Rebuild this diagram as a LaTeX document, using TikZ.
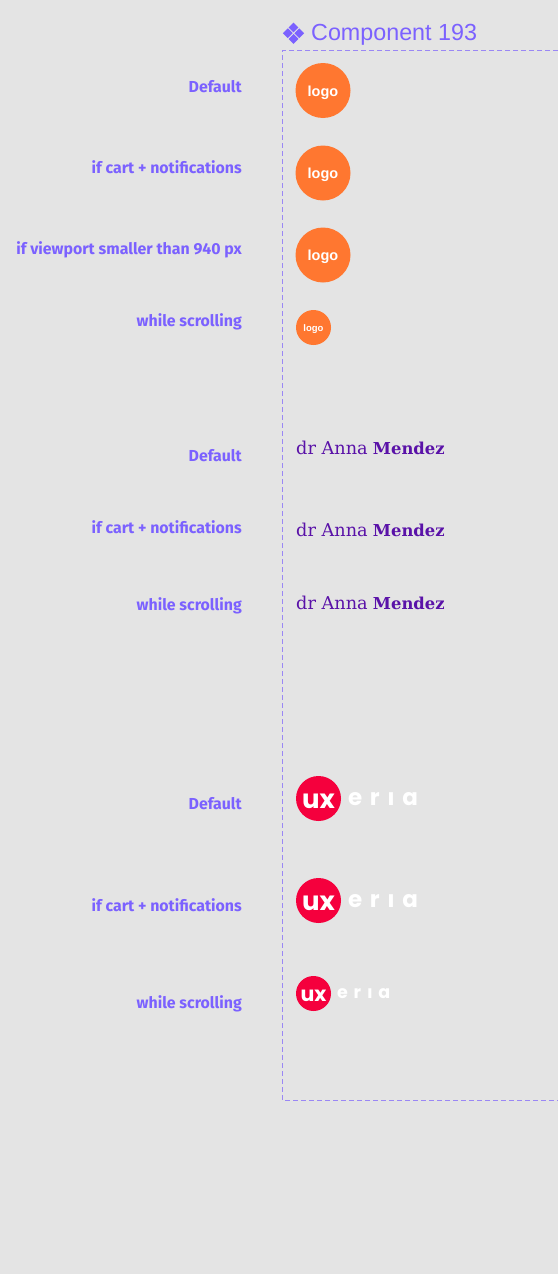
\documentclass[tikz,border=0pt]{standalone}
\usepackage{fontspec}
\usetikzlibrary{positioning}
\setmainfont{Liberation Sans}
\newfontfamily\labelfont{Fira Sans}
\newfontfamily\titlefont{Liberation Sans}
\newfontfamily\slabfont{DejaVu Serif}
\newfontfamily\brandfont[LetterSpace=33]{Poppins}
\newfontfamily\uxfont{Poppins}
\definecolor{violetlabel}{HTML}{7B61FF}
\definecolor{framedash}{HTML}{9A87F5}
\definecolor{pagegrey}{HTML}{E4E4E4}
\definecolor{logoorange}{HTML}{FF7730}
\definecolor{namepurple}{HTML}{5A12A8}
\definecolor{uxred}{HTML}{F5003D}
\tikzset{
	rowlabel/.style={anchor=east, inner sep=0pt, text height=12pt, text depth=4pt, text=violetlabel, font=\labelfont\bfseries\fontsize{15.9}{18}\selectfont},
	logobig/.style={circle, fill=logoorange, minimum size=55pt, inner sep=0pt, text=white, font=\bfseries\fontsize{14.5}{16}\selectfont},
	logosmall/.style={circle, fill=logoorange, minimum size=35pt, inner sep=0pt, text=white, font=\bfseries\fontsize{9.5}{10}\selectfont},
	doctorname/.style={anchor=west, inner sep=0pt, text=namepurple, font=\slabfont},
	uxbig/.style={circle, fill=uxred, minimum size=45pt, inner sep=0pt, text=white, font=\uxfont\bfseries\fontsize{26}{28}\selectfont},
	uxsmall/.style={circle, fill=uxred, minimum size=35pt, inner sep=0pt, text=white, font=\uxfont\bfseries\fontsize{20.5}{22}\selectfont},
	eriabig/.style={anchor=west, inner sep=0pt, yshift=-1pt, text=white, font=\brandfont\bfseries\fontsize{23}{24}\selectfont},
	eriasmall/.style={anchor=west, inner sep=0pt, yshift=-1pt, text=white, font=\brandfont\bfseries\fontsize{17.5}{20}\selectfont},
	gemtile/.style={fill=violetlabel}
}
\newcommand{\drname}{{\fontsize{17.7}{20}\selectfont dr Anna}\hspace{2pt} {\fontsize{16.4}{20}\selectfont\bfseries Mendez}}
\newcommand{\midword}[1]{\raisebox{-0.72ex}[0pt][0pt]{#1}}
\begin{document}
\begin{tikzpicture}[x=1pt, y=-1pt]
	% Page
	\fill[pagegrey] (0,0) rectangle (558,1274);
	\useasboundingbox (0,0) rectangle (558,1274);
	% Frame
	\coordinate (ftr) at (558,50.5);
	\coordinate (ftl) at (282.5,50.5);
	\coordinate (fbl) at (282.5,1100.5);
	\coordinate (fbr) at (558,1100.5);
	\draw[framedash, line width=1pt, dash pattern=on 5pt off 3pt] (ftr) -- (ftl) -- (fbl) -- (fbr);
	% Title
	\foreach \gx/\gy in {293.5/27.5, 293.5/38.9, 287.8/33.2, 299.2/33.2}
		\fill[gemtile] (\gx-4.9,\gy) -- (\gx,\gy-4.9) -- (\gx+4.9,\gy) -- (\gx,\gy+4.9) -- cycle;
	\node (title) [anchor=west, inner sep=0pt, text=violetlabel, font=\titlefont\fontsize{23.3}{26}\selectfont] at (311,34.5) {Component 193};
	% Labels
	\node (la) [rowlabel] at (242,88) {Default};
	\node (lb) [rowlabel] at (242,169) {if cart + notifications};
	\node (lc) [rowlabel] at (242,250) {if viewport smaller than 940 px};
	\node (ld) [rowlabel] at (242,322) {while scrolling};
	\node (na) [rowlabel] at (242,457) {Default};
	\node (nb) [rowlabel] at (242,529) {if cart + notifications};
	\node (nc) [rowlabel] at (242,606) {while scrolling};
	\node (ua) [rowlabel] at (242,805) {Default};
	\node (ub) [rowlabel] at (242,907) {if cart + notifications};
	\node (uc) [rowlabel] at (242,1004) {while scrolling};
	% Logos
	\node (loga) [logobig] at (323,90.5) {\midword{logo}};
	\node (logb) [logobig] at (323,173) {\midword{logo}};
	\node (logc) [logobig] at (323,255) {\midword{logo}};
	\node (logd) [logosmall] at (313.5,327.5) {\midword{logo}};
	% Names
	\node (dra) [doctorname] at (296,448) {\drname};
	\node (drb) [doctorname] at (296,530) {\drname};
	\node (drc) [doctorname] at (296,603) {\drname};
	% Brand
	\node (uxa) [uxbig] at (318.5,798.5) {\midword{ux}};
	\node (era) [eriabig] at (348,798) {erıa};
	\node (uxb) [uxbig] at (318.5,900.5) {\midword{ux}};
	\node (erb) [eriabig] at (348,900) {erıa};
	\node (uxc) [uxsmall] at (313.5,993.5) {\midword{ux}};
	\node (erc) [eriasmall] at (337,993) {erıa};
\end{tikzpicture}
\end{document}
